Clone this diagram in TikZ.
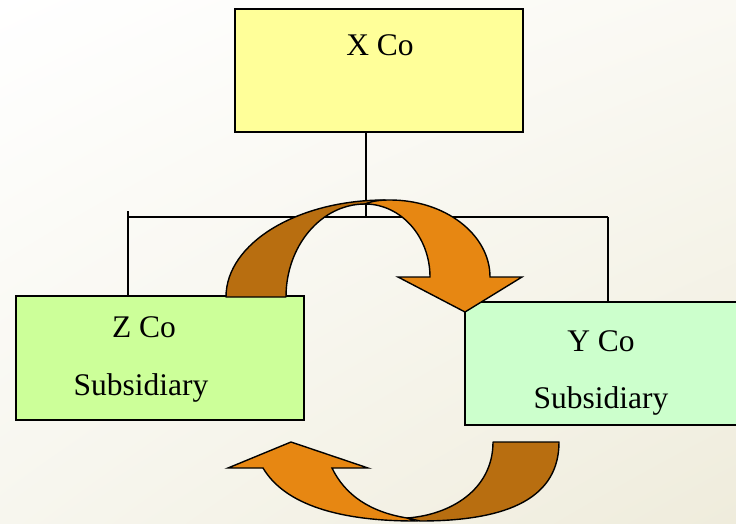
\documentclass[tikz,border=0pt]{standalone}
\usepackage{fontspec}
\setmainfont{Liberation Serif}
\usetikzlibrary{shadings}
\definecolor{bgA}{HTML}{FFFFFF}
\definecolor{bgB}{HTML}{FAF9F3}
\definecolor{bgC}{HTML}{F7F6EE}
\definecolor{bgD}{HTML}{EFECDC}
\definecolor{xfill}{HTML}{FFFF99}
\definecolor{zfill}{HTML}{CCFF99}
\definecolor{yfill}{HTML}{CCFFCC}
\definecolor{arrowback}{HTML}{B86E10}
\definecolor{arrowfront}{HTML}{E78712}
\tikzset{
  company/.style={draw=black, line width=2.6pt, inner sep=0pt, outer sep=0pt},
  label/.style={anchor=base, inner sep=0pt, font=\fontsize{31.5}{37}\selectfont},
  tree/.style={draw=black, line width=1.2pt},
  bandback/.style={fill=arrowback, draw=black, line width=1.4pt, line join=round},
  bandfront/.style={fill=arrowfront, draw=black, line width=1.4pt, line join=miter},
}
\begin{document}
\begin{tikzpicture}[x=1pt, y=-1pt]
  % page and background
  \clip (0,0) rectangle (736,524);
  \shade[upper left=bgA, upper right=bgB, lower left=bgC, lower right=bgD]
    (0,0) rectangle (736,524);

  % company boxes
  \node[company, fill=xfill, minimum width=288pt, minimum height=123pt] (xco) at (379,70.5) {};
  \node[company, fill=zfill, minimum width=288pt, minimum height=124pt] (zco) at (160,358) {};
  \node[company, fill=yfill, minimum width=282pt, minimum height=123pt] (yco) at (606,363.5) {};

  % box captions
  \node[label] (xname) at (380,56) {X Co};
  \node[label] (zname) at (144,337) {Z Co};
  \node[label] (zrole) at (141,395) {Subsidiary};
  \node[label] (yname) at (601,351) {Y Co};
  \node[label] (yrole) at (601,408) {Subsidiary};

  % ownership tree
  \coordinate (hub) at (366,217);
  \coordinate (ltick) at (128,211);
  \coordinate (rjoin) at (608,217);
  \draw[tree] (hub |- xco.south) -- (hub);
  \draw[tree] (ltick) -- (ltick |- zco.north);
  \draw[tree] (ltick |- hub) -- (rjoin);
  \draw[tree] (rjoin) -- (rjoin |- yco.north);

  % upper curved arrow: back band rising from Z Co
  \path[bandback] (226,297) .. controls (226,243.4) and (297.2,200) .. (385,200)
    -- (365,204) .. controls (321.4,204) and (286,245.6) .. (286,297) -- cycle;
  % upper curved arrow: front band with head pointing at Y Co
  \path[bandfront] (365,204) .. controls (372,201) and (380,200) .. (390,200)
    .. controls (445.2,200) and (490,234.5) .. (490,277)
    -- (522,277) -- (465,312) -- (398,277) -- (430,277)
    .. controls (430,236.7) and (400.9,204) .. (365,204) -- cycle;

  % lower curved arrow: back band leaving Y Co
  \path[bandback] (559,442) .. controls (559,497) and (510,521) .. (420,521)
    -- (407,518) .. controls (450,515) and (493,490) .. (493,442) -- cycle;
  % lower curved arrow: front band with head pointing at Z Co
  \path[bandfront] (407,518) .. controls (370,512) and (345,495) .. (332,468)
    -- (368,468) -- (291,442) -- (228,468) -- (263,468)
    .. controls (285,505) and (340,521) .. (415,521) -- cycle;
\end{tikzpicture}
\end{document}
